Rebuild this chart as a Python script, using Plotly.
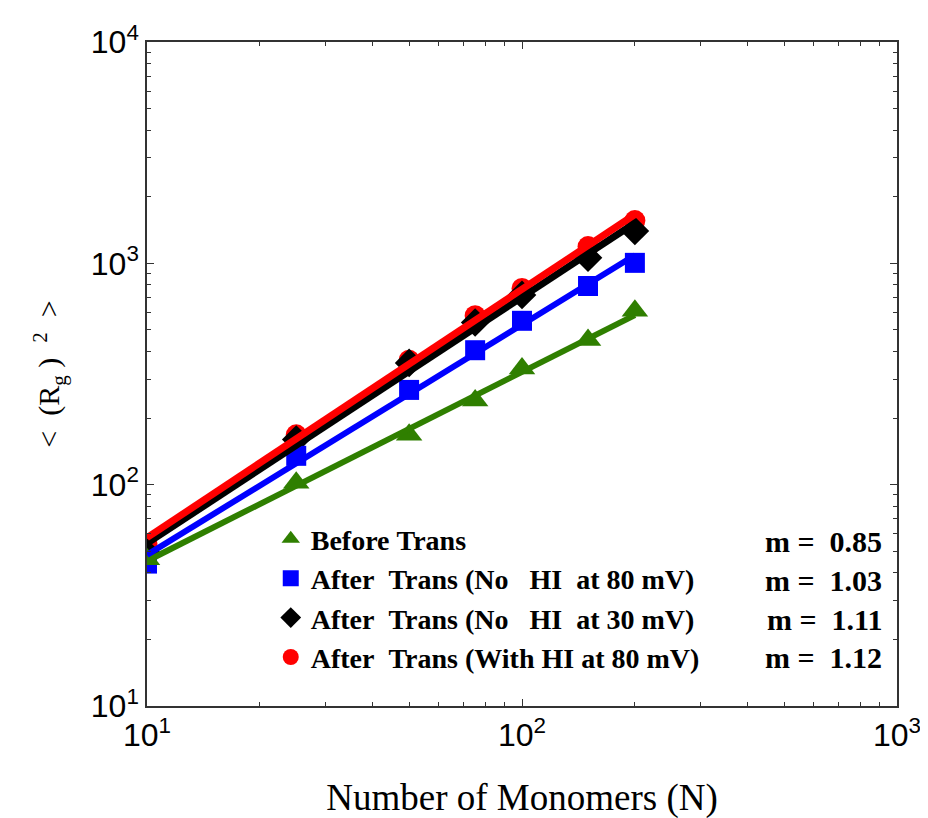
import numpy as np
import plotly.graph_objects as go

# ---- data ----
N = [10, 25, 50, 75, 100, 150, 200]
before_trans = [46, 102, 168, 240, 335, 450, 610]
after_no_hi_80 = [44, 135, 268, 405, 550, 790, 1005]
after_no_hi_30 = [49, 160, 355, 540, 720, 1060, 1400]
after_hi_80 = [54, 168, 365, 580, 770, 1190, 1560]

series_names = [
    "Before Trans",
    "After  Trans (No   HI  at 80 mV)",
    "After  Trans (No   HI  at 30 mV)",
    "After  Trans (With HI at 80 mV)",
]
slopes = [0.85, 1.03, 1.11, 1.12]

x_ticks = [10, 100, 1000]
y_ticks = [10, 100, 1000, 10000]

# ---- styles ----
values = [before_trans, after_no_hi_80, after_no_hi_30, after_hi_80]
colors = ["#2f7f00", "#0000ff", "#000000", "#ff0000"]
symbols = ["triangle-up", "square", "diamond", "circle"]
msizes = [23, 20, 22, 21]
lwidths = [6, 6, 7, 7]


def nb(s):
    return s.replace(" ", "\u00a0")


def pow_label(v):
    return "10<sup>%d</sup>" % int(round(np.log10(v)))


fig = go.Figure()

# markers (legend entries)
for i in [3, 2, 1, 0]:
    fig.add_trace(go.Scatter(
        x=N, y=values[i], mode="markers",
        marker=dict(symbol=symbols[i], color=colors[i], size=msizes[i], line=dict(width=0)),
        name=nb(series_names[i]), legendgroup=str(i), legendrank=i + 1,
    ))

# power-law fit lines
lx = np.log10(np.array(N, dtype=float))
for i in range(4):
    ly = np.log10(np.array(values[i], dtype=float))
    p = np.polyfit(lx, ly, 1)
    xe = np.array([N[0], N[-1]], dtype=float)
    ye = 10 ** np.polyval(p, np.log10(xe))
    fig.add_trace(go.Scatter(
        x=xe, y=ye, mode="lines",
        line=dict(color=colors[i], width=lwidths[i]),
        showlegend=False, hoverinfo="skip",
    ))

# slope annotations
row_y = [0.247, 0.189, 0.130, 0.073]
for i in range(4):
    fig.add_annotation(
        x=0.982, y=row_y[i], xref="paper", yref="paper",
        xanchor="right", yanchor="middle", showarrow=False,
        text=nb("m =  %.2f" % slopes[i]),
        font=dict(family="Liberation Serif", size=30, color="black", weight="bold"),
    )

axis_common = dict(
    type="log", showline=True, linecolor="#333333", linewidth=1.5, mirror="ticks",
    ticks="inside", ticklen=7, tickcolor="#333333", showgrid=False, zeroline=False,
    tickfont=dict(family="Liberation Sans", size=32, color="black"),
    minor=dict(ticks="inside", ticklen=4, tickcolor="#333333", dtick="D1", showgrid=False),
)

fig.update_xaxes(
    **axis_common, range=[1, 3], tickvals=x_ticks,
    ticktext=[pow_label(v) for v in x_ticks],
    title=dict(text="Number of Monomers (N)", standoff=32,
               font=dict(family="Liberation Serif", size=37, color="black")),
)
fig.update_yaxes(
    **axis_common, range=[1, 4], tickvals=y_ticks,
    ticktext=[pow_label(v) for v in y_ticks],
    title=dict(text=nb("<  (R<sub>g</sub> )  <sup>2</sup>  >"), standoff=22,
               font=dict(family="Liberation Serif", size=30, color="black")),
)

fig.update_layout(
    width=928, height=818,
    margin=dict(l=139, r=39, t=30, b=120),
    paper_bgcolor="white", plot_bgcolor="white",
    legend=dict(
        x=0.165, y=0.289, xanchor="left", yanchor="top",
        bgcolor="rgba(0,0,0,0)", borderwidth=0, tracegroupgap=0,
        font=dict(family="Liberation Serif", size=28, color="black", weight="bold"),
        itemsizing="trace",
    ),
)

fig.write_html("out.html")
